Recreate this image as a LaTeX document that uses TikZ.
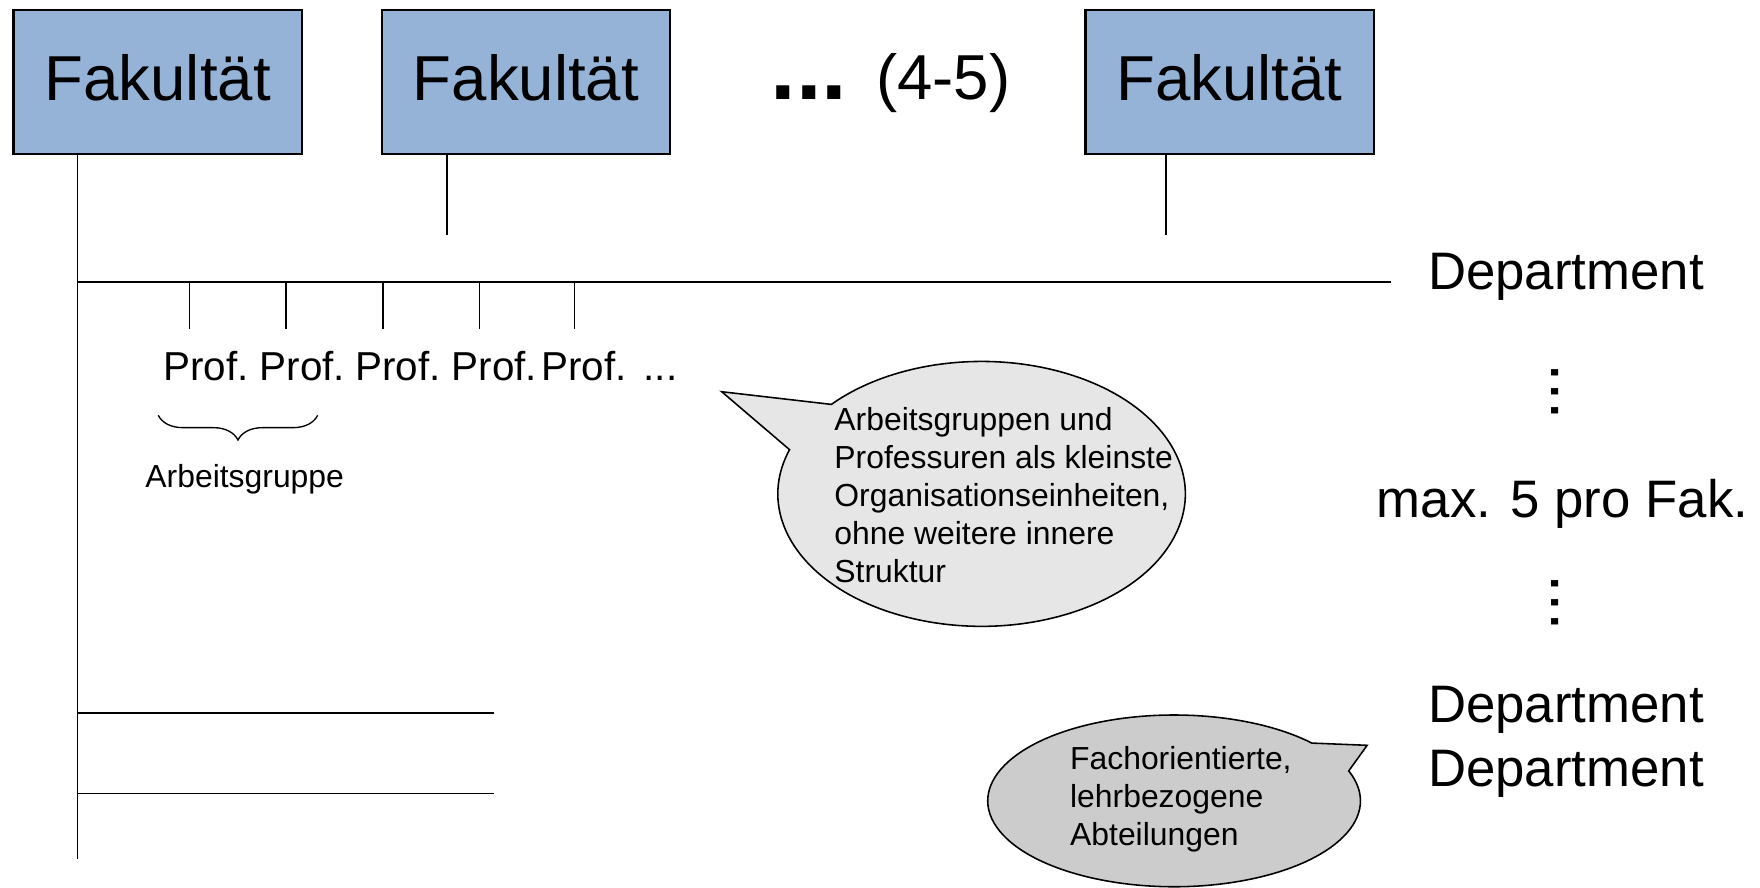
\documentclass[tikz,border=0pt]{standalone}
\usepackage{fontspec}
\setmainfont{Liberation Sans}
\usepackage{graphicx}
\usetikzlibrary{decorations.pathreplacing}
\definecolor{fakblue}{HTML}{95B3D7}
\definecolor{calloutlight}{HTML}{E6E6E6}
\definecolor{calloutdark}{HTML}{CCCCCC}
\begin{document}
\begin{tikzpicture}[x=0.5pt,y=-0.5pt,
  fakbox/.style={draw=black, line width=1pt, fill=fakblue, minimum width=128.5pt,
    minimum height=64pt, inner sep=0pt, text height=20.5pt, text depth=4pt,
    font=\fontsize{28.3}{34}\selectfont},
  conn/.style={line width=0.7pt},
  big/.style={font=\fontsize{23.5}{28}\selectfont, inner sep=0pt},
  prof/.style={font=\fontsize{18}{21.6}\selectfont, inner sep=0pt, anchor=base west},
  small/.style={font=\fontsize{14.2}{16.9}\selectfont, inner sep=0pt, align=left},
  calloutA/.style={draw=black, line width=0.7pt, fill=calloutlight},
  calloutB/.style={draw=black, line width=0.7pt, fill=calloutdark},
  vdots/.style={font=\fontsize{29.7}{30}\selectfont, inner sep=0pt},
]
\useasboundingbox (0,0) rectangle (1568,791);

% Faculties
\node[fakbox] (f1) at (140.5,73) {Fakultät};
\node[fakbox] (f2) at (468.5,73) {Fakultät};
\node[fakbox] (f3) at (1095.5,73) {Fakultät};
\node[anchor=base west, inner sep=0pt, font=\fontsize{28.3}{34}\selectfont] (more) at (686,89)
  {{\fontsize{41}{41}\selectfont\bfseries ...}\hspace{13pt}(4-5)};

% named coordinates
\coordinate (mainbot) at (69,765);
\coordinate (depL) at (69,251);
\coordinate (depR) at (1239,251);
\coordinate (f2end) at (398,209);
\coordinate (f3end) at (1039,209);
\coordinate (low1L) at (69,635);
\coordinate (low1R) at (440,635);
\coordinate (low2L) at (69,707);
\coordinate (low2R) at (440,707);

% connectors
\draw[conn] (mainbot |- f1.south) -- (mainbot);
\draw[conn] (f2end |- f2.south) -- (f2end);
\draw[conn] (f3end |- f3.south) -- (f3end);
\draw[conn] (depL) -- (depR);
\draw[conn] (low1L) -- (low1R);
\draw[conn] (low2L) -- (low2R);
\foreach \x/\n in {169/t1,255/t2,341/t3,427/t4,512/t5}{
  \coordinate (\n a) at (\x,251);
  \coordinate (\n b) at (\x,293);
  \draw[conn] (\n a) -- (\n b);
}

% Professors
\foreach \x/\n in {145/p1,231/p2,316/p3,402/p4,482/p5}
  \node[prof] (\n) at (\x,339) {Prof.};
\node[prof] (pdots) at (573,339) {...};

% brace
\coordinate (brL) at (141,370);
\coordinate (brR) at (283,370);
\draw[line width=0.6pt, decorate, decoration={brace, mirror, amplitude=11pt}] (brL) -- (brR);
\node[font=\fontsize{14.2}{17}\selectfont, inner sep=0pt] (ag) at (218,427) {Arbeitsgruppe};

% right labels
\node[big, anchor=west] (d1) at (1272,247) {Department};
\node[vdots] (vd1) at (1385,349) {\rotatebox{-90}{...}};
\node[big] (mx) at (1392,449) {max. 5 pro Fak.};
\node[vdots] (vd2) at (1385,537) {\rotatebox{-90}{...}};
\node[big, anchor=west] (d2) at (1272,632) {Department};
\node[big, anchor=west] (d3) at (1272,689) {Department};

% callout 1
\coordinate (c1) at (874.5,440);
\coordinate (tip1) at (643,349);
\draw[calloutA] ([shift={(222.5:181.5 and 118)}]c1) -- (tip1)
  -- ([shift={(199.5:181.5 and 118)}]c1)
  arc[start angle=199.5, end angle=-137.5, x radius=181.5, y radius=118] -- cycle;
\node[small, anchor=west] (txt1) at (743,441)
  {Arbeitsgruppen und\\Professuren als kleinste\\Organisationseinheiten,\\ohne weitere innere\\Struktur};

% callout 2
\coordinate (c2) at (1046,713.5);
\coordinate (tip2) at (1218,664);
\draw[calloutB] ([shift={(-42.3:166 and 76.5)}]c2) -- (tip2)
  -- ([shift={(-20.4:166 and 76.5)}]c2)
  arc[start angle=-20.4, end angle=317.7, x radius=166, y radius=76.5] -- cycle;
\node[small, anchor=west] (txt2) at (953,712)
  {Fachorientierte,\\lehrbezogene\\Abteilungen};
\end{tikzpicture}
\end{document}
